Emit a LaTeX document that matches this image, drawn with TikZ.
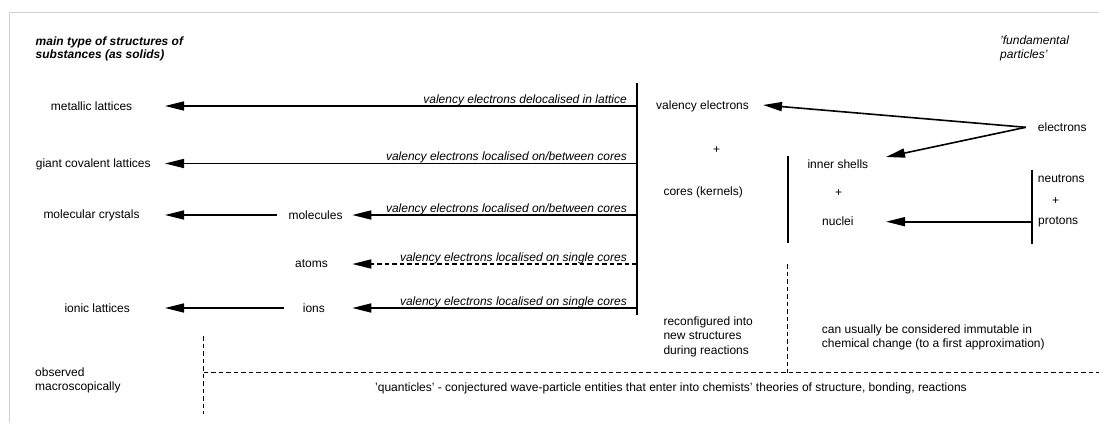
\documentclass[tikz,border=0pt]{standalone}
\usepackage{fontspec}
\setmainfont{Liberation Sans}
\usetikzlibrary{arrows.meta}
\begin{document}
\begin{tikzpicture}[x=1pt,y=-1pt,
  txt/.style={inner sep=0pt, font=\fontsize{12}{14}\selectfont},
  mtxt/.style={inner sep=0pt, align=left, anchor=west, font=\fontsize{12}{14}\selectfont},
  rowlbl/.style={inner sep=0pt, anchor=base east, font=\itshape\fontsize{12}{14}\selectfont},
  arr/.style={line width=1.6pt, -{Triangle[length=19pt,width=9pt]}},
  darr/.style={arr, dash pattern=on 4.5pt off 3pt},
  bar/.style={line width=2pt},
  dsh/.style={line width=1.6pt, dash pattern=on 4.5pt off 3pt},
  framegray/.style={draw=black!18, line width=1pt}]
\useasboundingbox (0,0) rectangle (1099,423);
\draw[framegray] (1099,12.5) -- (9.5,12.5) -- (9.5,423);

% headings
\node[mtxt, font=\bfseries\itshape\fontsize{12}{13}\selectfont] (title) at (35.5,48.5) {main type of structures of\\substances (as solids)};
\node[mtxt, font=\itshape\fontsize{12}{13.7}\selectfont] (fund) at (1000,48.2) {'fundamental\\particles'};

% left column
\node[txt, anchor=west] (metallic) at (50.7,106) {metallic lattices};
\node[txt, anchor=west] (giant) at (35.7,164) {giant covalent lattices};
\node[txt, anchor=west] (molcryst) at (43.3,215) {molecular crystals};
\node[txt, anchor=west] (ioniclat) at (64.3,308.7) {ionic lattices};

% second column
\node[txt, anchor=west] (molecules) at (288.3,215) {molecules};
\node[txt, anchor=west] (atoms) at (295,264) {atoms};
\node[txt, anchor=west] (ions) at (302.7,308.7) {ions};

% middle
\node[txt, anchor=west] (valence) at (656,106) {valency electrons};
\node[txt] (plusA) at (716.7,150) {+};
\node[txt, anchor=west] (cores) at (663.3,192.7) {cores (kernels)};
\node[txt, anchor=west] (inner) at (807.3,164) {inner shells};
\node[txt] (plusB) at (838.7,193.3) {+};
\node[txt, anchor=west] (nuclei) at (822,221.3) {nuclei};

% right
\node[txt, anchor=west] (electrons) at (1037.7,127.7) {electrons};
\node[txt, anchor=west] (neutrons) at (1037.7,178.3) {neutrons};
\node[txt] (plusC) at (1055.7,200.7) {+};
\node[txt, anchor=west] (protons) at (1038,221.7) {protons};

% bottom texts
\node[mtxt, font=\fontsize{12}{14.3}\selectfont] (reconf) at (663.3,336.8) {reconfigured into\\new structures\\during reactions};
\node[mtxt] (immut) at (821.7,337) {can usually be considered immutable in\\chemical change (to a first approximation)};
\node[mtxt] (observed) at (35,380.5) {observed\\macroscopically};
\node[txt, anchor=west] (quant) at (375,388) {'quanticles' - conjectured wave-particle entities that enter into chemists' theories of structure, bonding, reactions};

% bars
\coordinate (b1t) at (636.5,83);
\coordinate (b1b) at (636.5,315);
\coordinate (b2t) at (787.5,156);
\coordinate (b2b) at (787.5,243);
\coordinate (b3t) at (1032,170);
\coordinate (b3b) at (1032,244);
\draw[bar] (b1t) -- (b1b);
\draw[bar] (b2t) -- (b2b);
\draw[bar] (b3t) -- (b3b);

% row coordinates
\coordinate (s1) at (636.5,106);
\coordinate (s2) at (636.5,163.5);
\coordinate (s3) at (636.5,215);
\coordinate (s4) at (636.5,264);
\coordinate (s5) at (636.5,308);
\coordinate (t1) at (165,106);
\coordinate (t2) at (165,163.5);
\coordinate (t3) at (165,215);
\coordinate (t5) at (165,308);
\coordinate (m3) at (352.3,215);
\coordinate (m4) at (352.3,264);
\coordinate (m5) at (352.3,308);
\coordinate (mc) at (276.7,215);
\coordinate (ic) at (284,308);

\draw[arr] (s1) -- (t1);
\draw[arr] (s2) -- (t2);
\draw[arr] (s3) -- (m3);
\draw[darr] (s4) -- (m4);
\draw[arr] (s5) -- (m5);
\draw[arr] (mc) -- (t3);
\draw[arr] (ic) -- (t5);

\node[rowlbl] (l1) at (627,103) {valency electrons delocalised in lattice};
\node[rowlbl] (l2) at (627,160.5) {valency electrons localised on/between cores};
\node[rowlbl] (l3) at (627,212) {valency electrons localised on/between cores};
\node[rowlbl] (l4) at (627,261) {valency electrons localised on single cores};
\node[rowlbl] (l5) at (627,305) {valency electrons localised on single cores};

% electrons arrows
\coordinate (e0) at (1025.7,127.3);
\coordinate (ev) at (763,105);
\coordinate (ei) at (886,157);
\draw[arr] (e0) -- (ev);
\draw[arr] (e0) -- (ei);
\coordinate (np) at (1032,221.7);
\coordinate (nt) at (886,221.7);
\draw[arr] (np) -- (nt);

% dashed partitions
\coordinate (d1t) at (787.5,264);
\coordinate (d1b) at (787.5,372.5);
\coordinate (d2t) at (203.5,336);
\coordinate (d2b) at (203.5,414);
\coordinate (d2m) at (203.5,372.5);
\coordinate (dr) at (1099,372.5);
\draw[dsh] (d1t) -- (d1b);
\draw[dsh] (d2t) -- (d2b);
\draw[dsh] (d2m) -- (dr);
\end{tikzpicture}
\end{document}
